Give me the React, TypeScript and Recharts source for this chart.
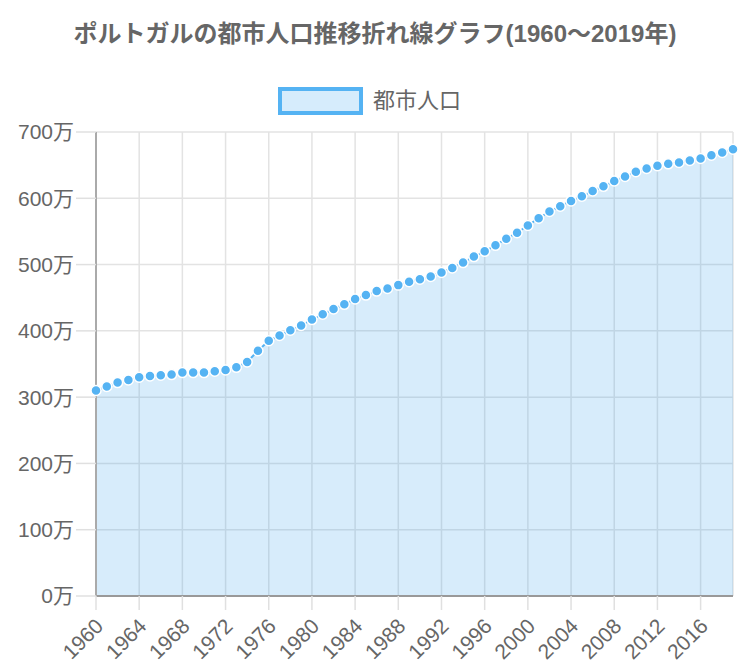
import { Area, AreaChart, CartesianGrid, XAxis, YAxis } from "recharts"

const years = Array.from({ length: 60 }, (_, i) => 1960 + i)

// urban population, unit: 万人
const urbanPop = [
  310, 316, 322, 326, 330, 332, 333, 334, 337, 337,
  337, 339, 341, 345, 353, 370, 385, 393, 401, 408,
  417, 425, 433, 440, 448, 454, 460, 464, 469, 474,
  478, 482, 488, 495, 503, 512, 520, 529, 539, 548,
  559, 570, 580, 588, 596, 603, 611, 618, 626, 633,
  640, 645, 649, 652, 654, 657, 660, 665, 669, 674,
]

const xTicks = [1960, 1964, 1968, 1972, 1976, 1980, 1984, 1988, 1992, 1996, 2000, 2004, 2008, 2012, 2016]
const yTicks = [0, 100, 200, 300, 400, 500, 600, 700]

const title = "ポルトガルの都市人口推移折れ線グラフ(1960～2019年)"
const seriesName = "都市人口"

const data = years.map((year, i) => ({ year, value: urbanPop[i] }))

const FONT = '"Liberation Sans", Arial, "Noto Sans CJK JP", sans-serif'
const BLUE = "#55b3f3"
const TEXT = "#666666"

function renderDot(props: any) {
  const { cx, cy, index } = props
  return <circle key={`dot-${index}`} cx={cx} cy={cy} r={5} fill={BLUE} stroke="#fff" strokeWidth={1.5} />
}

export default function App() {
  return (
    <div style={{ position: "absolute", left: 0, top: 0, width: 750, height: 666, background: "#fff" }}>
      <svg width={750} height={130} style={{ position: "absolute", left: 0, top: 0 }}>
        <text x={375} y={42} textAnchor="middle" fill={TEXT} fontSize={24} fontWeight="bold" fontFamily={FONT}>
          {title}
        </text>
        <rect x={280} y={89} width={81} height={24} fill="#d6ecfc" stroke={BLUE} strokeWidth={4} />
        <text x={373} y={108} fill={TEXT} fontSize={22} fontFamily={FONT}>
          {seriesName}
        </text>
      </svg>
      <AreaChart
        width={750}
        height={666}
        data={data}
        margin={{ top: 132, right: 17, bottom: 0, left: 0 }}
        style={{ position: "absolute", left: 0, top: 0 }}
      >
        <CartesianGrid stroke="#e3e3e3" strokeWidth={1.5} />
        <XAxis
          dataKey="year"
          type="number"
          domain={[1960, 2019]}
          ticks={xTicks}
          interval={0}
          height={70}
          tickSize={14}
          tickMargin={7}
          angle={-45}
          textAnchor="end"
          tick={{ fill: TEXT, fontSize: 21, fontFamily: FONT, verticalAnchor: "middle", dx: -2 } as any}
          axisLine={{ stroke: "#999", strokeWidth: 2 }}
          tickLine={{ stroke: "#e0e0e0", strokeWidth: 1.5 }}
        />
        <YAxis
          type="number"
          domain={[0, 700]}
          ticks={yTicks}
          width={96}
          tickSize={20}
          tickMargin={2}
          tickFormatter={(v: number) => `${v}万`}
          tick={{ fill: TEXT, fontSize: 21, fontFamily: FONT }}
          axisLine={{ stroke: "#aaa", strokeWidth: 2 }}
          tickLine={{ stroke: "#e0e0e0", strokeWidth: 1.5 }}
        />
        <Area
          type="linear"
          dataKey="value"
          name={seriesName}
          stroke={BLUE}
          strokeWidth={2}
          fill="#36a2eb"
          fillOpacity={0.2}
          dot={renderDot}
          activeDot={false}
          isAnimationActive={false}
        />
      </AreaChart>
    </div>
  )
}
